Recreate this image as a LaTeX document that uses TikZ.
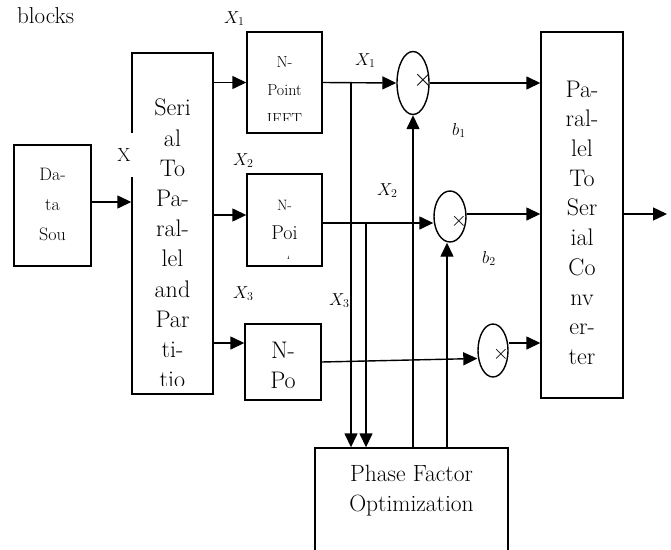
\documentclass[tikz,border=0pt]{standalone}
\usetikzlibrary{shapes.geometric,arrows.meta}
\newcommand{\myfs}[2]{\fontsize{#1}{#2}\selectfont}
\newcommand{\cliplab}[4]{\begin{scope}\clip (#2-3,#3-22) rectangle (#2+30,#3+1.5);\node[lab] (#1) at (#2,#3) {#4};\end{scope}}
\begin{document}
\begin{tikzpicture}[x=1pt,y=-1pt,
  box/.style={draw,line width=1.4pt,inner sep=0pt},
  arr/.style={line width=1.4pt,-{Triangle[length=14pt,width=13pt]}},
  ln/.style={line width=1.4pt},
  mul/.style={draw,ellipse,line width=1.4pt,inner sep=0pt},
  txt/.style={inner sep=0pt,align=center,anchor=north},
  lab/.style={inner sep=0pt,anchor=base west,font=\myfs{17}{20}},
  crs/.style={inner sep=0pt}]
\clip (0,0) rectangle (671,549);
\useasboundingbox (0,0) rectangle (671,549);

% top text
\node[inner sep=0pt,anchor=base west,font=\myfs{23}{26}] (blk) at (17,23) {blocks};

% boxes
\node[box,minimum width=77pt,minimum height=121pt] (ds) at (52.5,205.5) {};
\node[box,minimum width=81pt,minimum height=341pt] (sp) at (172.5,223.5) {};
\node[box,minimum width=75pt,minimum height=101pt] (b1) at (284.5,82.5) {};
\node[box,minimum width=75pt,minimum height=92pt] (b2) at (284.5,220) {};
\node[box,minimum width=76pt,minimum height=76pt] (b3) at (283,362) {};
\node[box,minimum width=82pt,minimum height=366pt] (ps) at (582,215) {};
\node[box,minimum width=193pt,minimum height=112pt] (ph) at (411.5,504) {};

% box texts
\node[txt,font=\myfs{18}{30}] (dst) at (52.5,167.7) {Da-\\ta\\Sou};
\begin{scope}
  \clip (134,55) rectangle (211,385);
  \node[txt,font=\myfs{24}{30.2}] (spt) at (172.5,99) {Seri\\al\\To\\Pa-\\ral-\\lel\\and\\Par\\ti-\\tio};
\end{scope}
\begin{scope}
  \clip (249,34) rectangle (320,120.5);
  \node[txt,font=\myfs{16}{28.5}] (b1t) at (284.5,56) {N-\\Point\\IFFT};
\end{scope}
\begin{scope}
  \clip (249,176) rectangle (320,258);
  \node[txt,font=\myfs{20}{29}] (b2t) at (284.5,199.8) {{\myfs{15}{29}N-}\\Poi\\nt};
\end{scope}
\node[txt,font=\myfs{24}{30}] (b3t) at (283,341.6) {N-\\Po};
\node[txt,font=\myfs{24}{29.7}] (pst) at (582,80.6) {Pa-\\ral-\\lel\\To\\Ser\\ial\\Co\\nv\\er-\\ter};
\node[txt,font=\myfs{23.5}{30}] (pht) at (411.5,464.7) {Phase Factor\\Optimization};

% multipliers
\node[mul,minimum width=32pt,minimum height=63pt] (m1) at (413,83) {};
\node[mul,minimum width=32pt,minimum height=51pt] (m2) at (450,216.5) {};
\node[mul,minimum width=30pt,minimum height=53pt] (m3) at (493,350.5) {};
\node[crs,font=\myfs{26}{26}] (c1) at (423,80.5) {$\times$};
\node[crs,font=\myfs{20}{20}] (c2) at (459,221) {$\times$};
\node[crs,font=\myfs{20}{20}] (c3) at (501,354) {$\times$};

% junctions and output
\coordinate (j1) at (351,83);
\coordinate (j2) at (366,223);
\coordinate (out) at (667,214);

% connectors
\draw[arr] ([yshift=3.5pt]ds.east) -- ([yshift=3.5pt]ds.east -| sp.west);
\draw[arr] (b1.west -| sp.east) -- (b1.west);
\draw[arr] ([yshift=5pt]b2.west -| sp.east) -- ([yshift=5pt]b2.west);
\draw[arr] ([yshift=19pt]b3.west -| sp.east) -- ([yshift=19pt]b3.west);
\draw[arr] (b1.east) -- (m1.west);
\draw[arr] (j1) -- (j1 |- ph.north);
\draw[ln] (b2.east |- j2) -- (j2);
\draw[arr] (j2) -- (j2 -| m2.west);
\draw[arr] (j2) -- (j2 |- ph.north);
\draw[arr] (b3.east) -- ([yshift=-8pt]m3.west);
\draw[arr] (m1.south |- ph.north) -- (m1.south);
\draw[arr] ([xshift=-3pt]m2.south |- ph.north) -- ([xshift=-3pt]m2.south);
\draw[arr] (m1.east) -- (m1.east -| ps.west);
\draw[arr] ([yshift=2.5pt]m2.east) -- ([yshift=2.5pt]m2.east -| ps.west);
\draw[arr] ([yshift=7.5pt]m3.east) -- ([yshift=7.5pt]m3.east -| ps.west);
\draw[arr] (ps.east |- out) -- (out);

% X label over serial box edge
\node[fill=white,inner sep=0pt,minimum width=20pt,minimum height=44pt,font=\myfs{19}{20}] (xin) at (124,155) {X};

% labels
\cliplab{la1}{224}{23}{$X_1$}
\cliplab{la2}{233}{165}{$X_2$}
\cliplab{la3}{233}{298}{$X_3$}
\cliplab{lb1}{355}{65}{$X_1$}
\cliplab{lb2}{377}{195}{$X_2$}
\cliplab{lb3}{329}{305}{$X_3$}
\cliplab{lc1}{452}{135}{$b_1$}
\cliplab{lc2}{482}{263}{$b_2$}
\end{tikzpicture}
\end{document}
